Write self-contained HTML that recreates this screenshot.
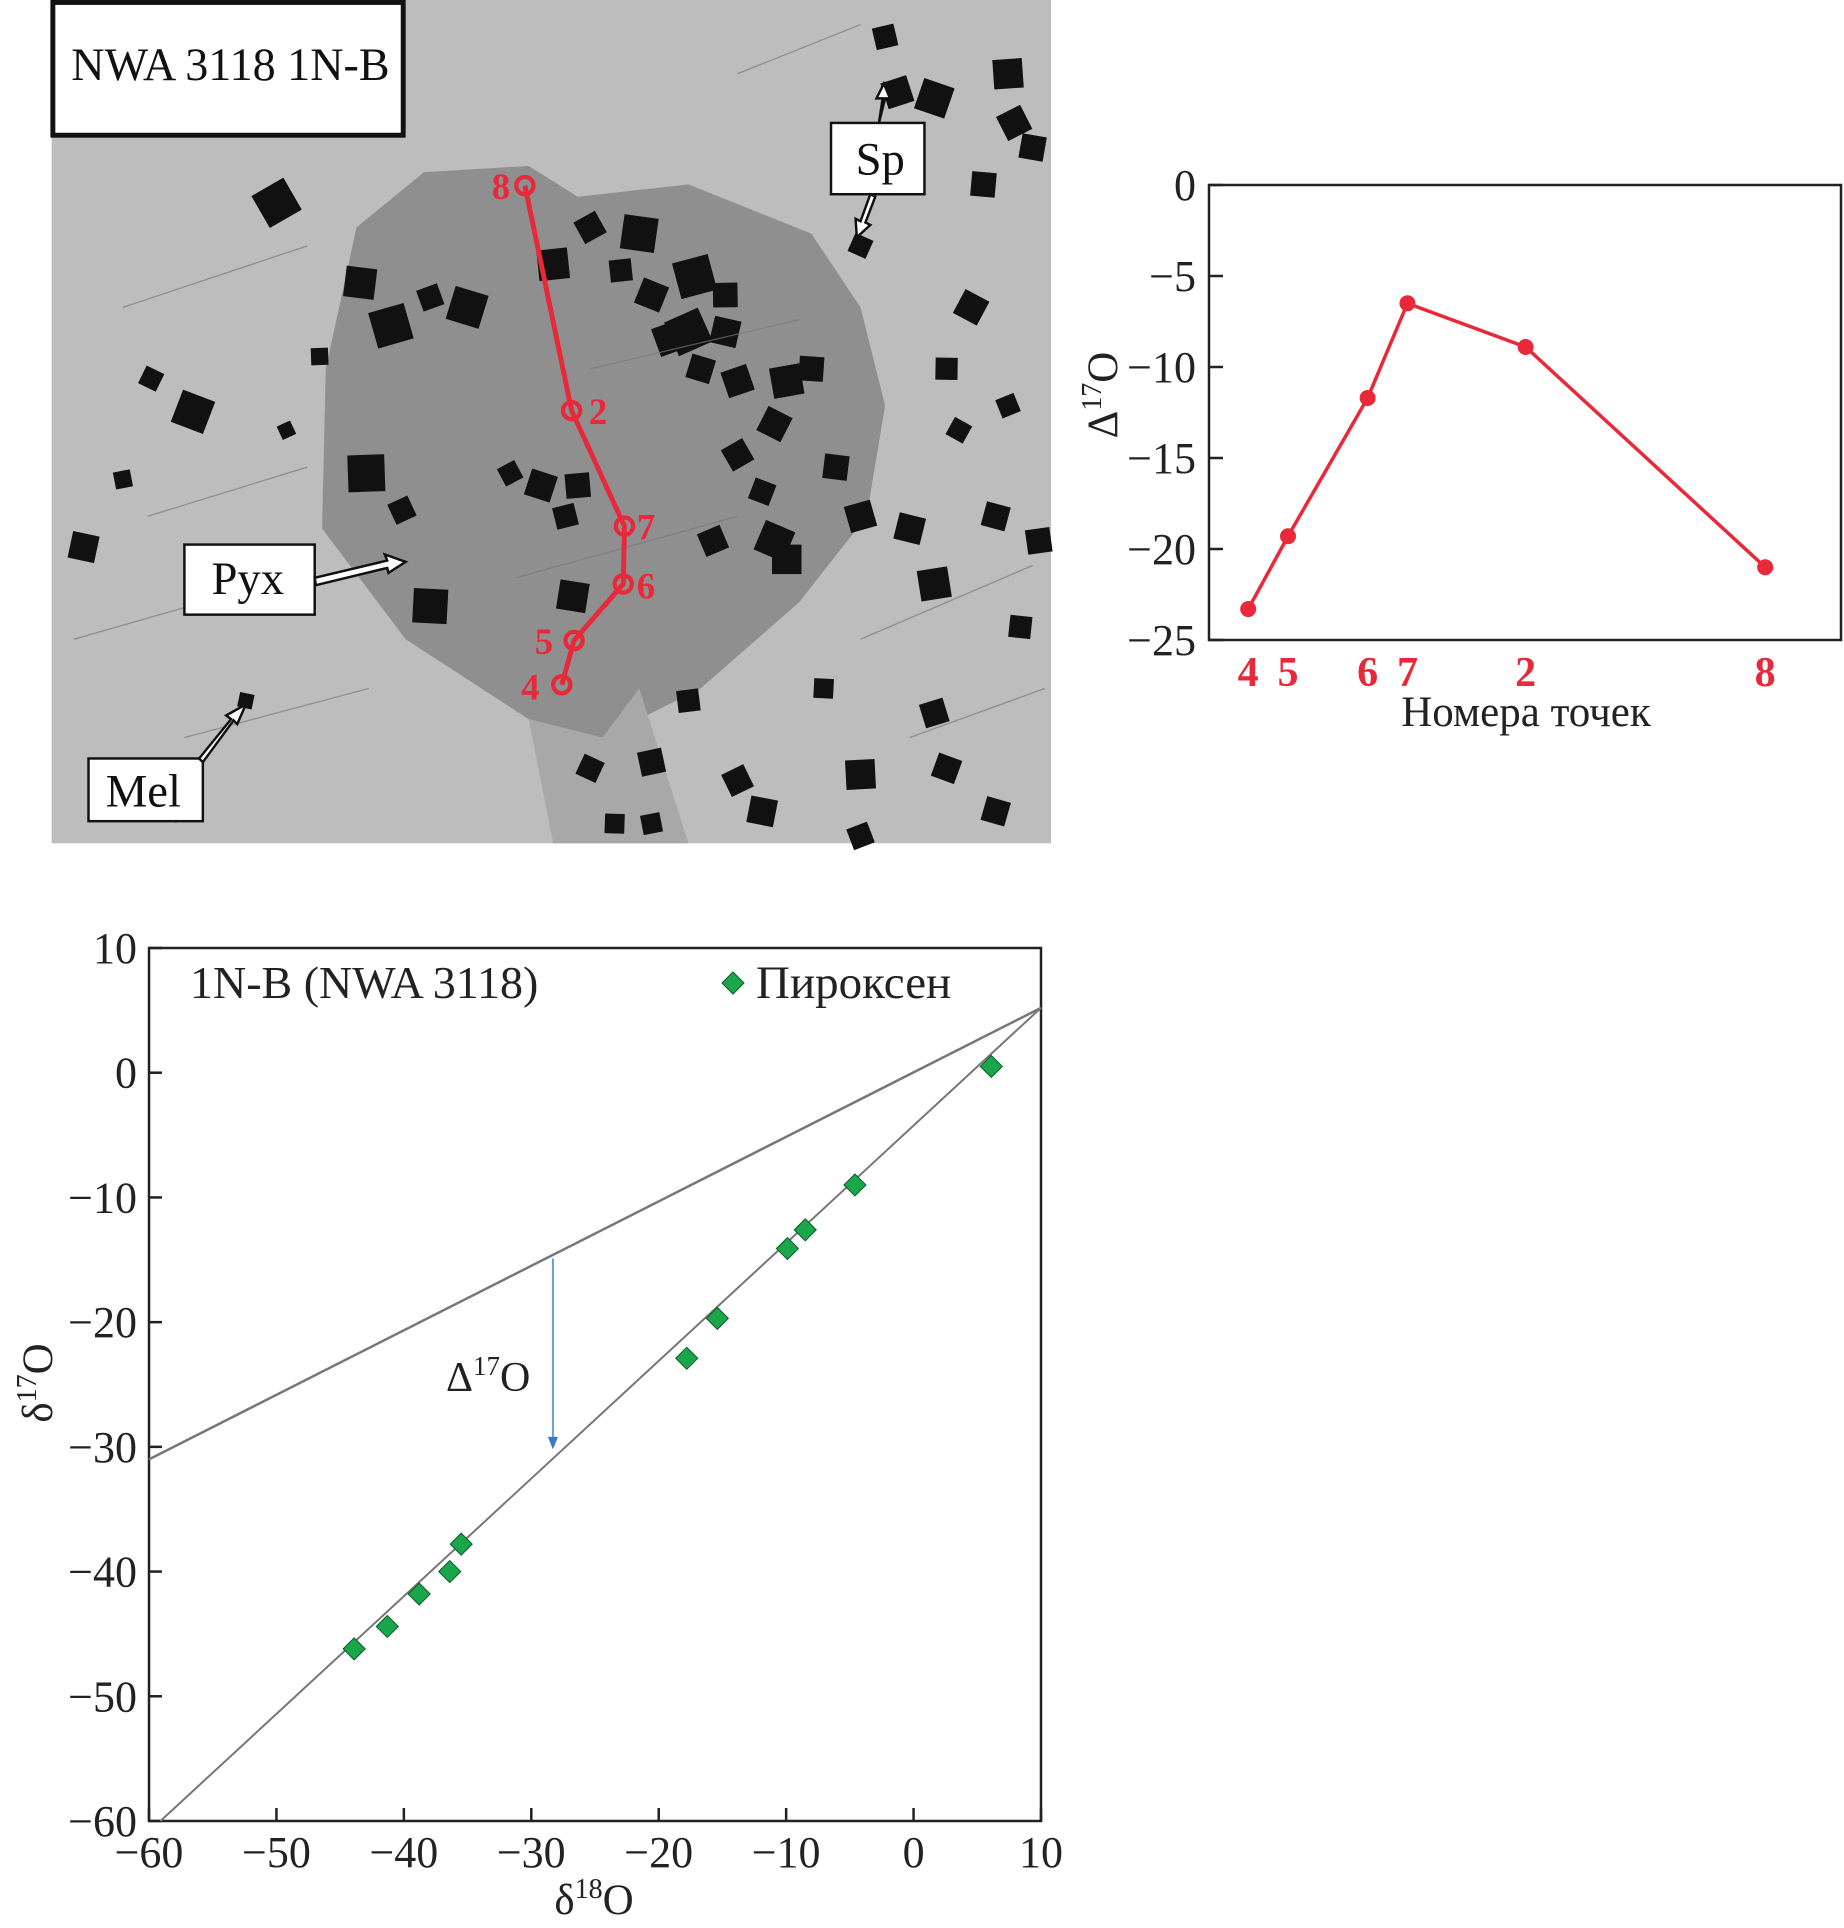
<!DOCTYPE html>
<html><head><meta charset="utf-8"><style>
html,body{margin:0;padding:0;background:#fff;}
svg{display:block;}
text{font-family:"Liberation Serif",serif;}
</style></head><body>
<svg id="root" width="1844" height="1928" viewBox="0 0 1844 1928" xmlns="http://www.w3.org/2000/svg">
<g id="photo" transform="scale(1.2293)">
  <rect x="42" y="0" width="813" height="686" fill="#bdbdbd"/>
  <polygon points="290,185 345,140 430,135 470,160 560,150 660,190 700,250 720,330 705,420 650,490 570,560 490,600 430,585 330,520 262,430 265,300" fill="#8f8f8f"/>
  <polygon points="430,585 490,600 520,560 560,686 450,686" fill="#a8a8a8"/>
  <g id="grains" fill="#111"></g>
  <g stroke="#777" stroke-width="1" fill="none" opacity="0.7">
    <path d="M60 100 L200 60 M100 250 L250 200 M60 520 L200 480 M150 600 L300 560 M600 60 L700 20 M700 520 L840 460 M740 600 L850 560 M120 420 L250 380 M480 300 L650 260 M420 470 L600 420"/>
  </g>
  <polyline id="profile" fill="none" stroke="#e8293a" stroke-width="4" points="427,151 465,334 508,428 507,475 467,521 457,557"/>
  <g fill="none" stroke="#e8293a" stroke-width="3.5">
    <circle cx="427" cy="151" r="7"/>
    <circle cx="465" cy="334" r="7"/>
    <circle cx="508" cy="428" r="7"/>
    <circle cx="507" cy="475" r="7"/>
    <circle cx="467" cy="521" r="7"/>
    <circle cx="457" cy="557" r="7"/>
  </g>
  <g fill="#e8293a" font-weight="bold" font-size="30" style="font-family:'Liberation Serif',serif">
    <text x="400" y="162">8</text><text x="479" y="345">2</text><text x="518" y="439">7</text>
    <text x="518" y="487">6</text><text x="435" y="532">5</text><text x="424" y="569">4</text>
  </g>
  <rect x="43" y="2" width="285" height="108" fill="#fff" stroke="#111" stroke-width="4"/>
  <text x="58" y="65" font-size="37.5" fill="#111">NWA 3118 1N-B</text>
  <g stroke="#111" stroke-width="2" fill="#fff">
    <rect x="676" y="100" width="76" height="58"/>
    <rect x="150" y="443" width="106" height="57"/>
    <rect x="72" y="617" width="93" height="51"/>
    <path d="M715 100 L718 80 L713 80 L719 68 L724 80 L720 80 Z" />
    <path d="M708 158 L700 180 L696 178 L697 193 L708 183 L704 181 L712 160 Z"/>
    <path d="M256 470 L315 456 L313 451 L330 457 L316 466 L315 462 L257 476 Z"/>
    <path d="M162 617 L188 585 L184 582 L200 573 L193 589 L190 586 L165 620 Z"/>
  </g>
  <text x="696" y="142" font-size="38" fill="#111">Sp</text>
  <text x="172" y="483" font-size="38" fill="#111">Pyx</text>
  <text x="86" y="656" font-size="38" fill="#111">Mel</text>
</g>

<g id="chart1"></g>
<g id="chart2"></g>
</svg>
<script>
const NS='http://www.w3.org/2000/svg';
function mk(tag,attrs,parent,txt){const e=document.createElementNS(NS,tag);for(const k in attrs)e.setAttribute(k,attrs[k]);if(txt!==undefined)e.textContent=txt;parent.appendChild(e);return e;}

// photo grains (decorative)
const grainData=[[225,165,30],[293,230,25],[318,265,30],[157,335,28],[298,385,30],[327,415,18],[68,445,22],[100,390,14],[123,308,16],[350,493,28],[350,242,18],[380,250,28],[450,215,25],[480,185,20],[520,190,28],[565,225,30],[530,240,22],[590,240,20],[560,270,30],[590,270,22],[640,310,25],[630,345,22],[660,300,20],[600,310,22],[440,395,22],[470,395,20],[415,385,16],[466,485,24],[460,420,18],[630,440,26],[640,455,24],[580,440,20],[740,430,22],[760,475,25],[790,250,22],[800,150,20],[730,75,22],[760,80,26],[820,60,24],[825,100,22],[840,120,20],[720,30,18],[700,200,16],[770,300,18],[820,330,16],[810,420,20],[845,440,20],[780,350,16],[830,510,18],[760,580,20],[770,625,20],[700,630,24],[600,635,20],[620,660,22],[530,620,20],[480,625,18],[500,670,16],[700,680,18],[810,660,20],[560,570,18],[600,370,20],[680,380,20],[700,420,22],[620,400,18],[260,290,14],[233,350,12],[200,570,12],[530,670,16],[140,660,14],[670,560,16],[545,275,24],[570,300,20],[505,220,18]];
const gg=document.getElementById('grains');
grainData.forEach((g,i)=>{const s=g[2];const r=mk('rect',{x:g[0]-s/2,y:g[1]-s/2,width:s,height:s,transform:`rotate(${(i*37)%60-30} ${g[0]} ${g[1]})`},gg);

});

// ===== Chart 1: Δ17O along profile =====
const c1Labels=['4','5','6','7','2','8'];
const c1Pos=[6.2,12.5,25.1,31.4,50.1,88.0];
const c1Values=[-23.3,-19.3,-11.7,-6.5,-8.9,-21.0];
const c1Ticks=[0,-5,-10,-15,-20,-25];
const c1=document.getElementById('chart1');
const p1={l:1209,r:1841,t:185,b:640};
const x1=v=>p1.l+(v/100)*(p1.r-p1.l);
const y1=v=>p1.t+(0-v)/25*(p1.b-p1.t);
const f1=mk('rect',{x:p1.l,y:p1.t,width:p1.r-p1.l,height:p1.b-p1.t,fill:'none',stroke:'#222','stroke-width':2.5},c1);


c1Ticks.forEach(t=>{const y=y1(t);
 mk('line',{x1:p1.l,x2:p1.l+14,y1:y,y2:y,stroke:'#222','stroke-width':2.5},c1);
 const tx=mk('text',{x:1196,y:y+15,'text-anchor':'end','font-size':44,fill:'#222'},c1,t===0?'0':'\u2212'+Math.abs(t));
 
 });
const line1=mk('polyline',{points:c1Pos.map((p,i)=>x1(p)+','+y1(c1Values[i])).join(' '),fill:'none',stroke:'#e8293a','stroke-width':3.5},c1);


c1Pos.forEach((p,i)=>{const c=mk('circle',{cx:x1(p),cy:y1(c1Values[i]),r:8,fill:'#e8293a'},c1);
 
 
 const t=mk('text',{x:x1(p),y:686,'text-anchor':'middle','font-size':42,'font-weight':'bold',fill:'#e8293a'},c1,c1Labels[i]);
 
 });
const xt1=mk('text',{x:1526,y:726,'text-anchor':'middle','font-size':43,fill:'#222'},c1,'Номера точек');


const yt1=mk('text',{transform:'translate(1117,395) rotate(-90)','text-anchor':'middle','font-size':43,fill:'#222'},c1);


yt1.innerHTML='Δ<tspan font-size="28" dy="-16">17</tspan><tspan dy="16">O</tspan>';

// ===== Chart 2: δ17O vs δ18O =====
const c2X=[-43.9,-41.3,-38.8,-36.4,-35.5,-17.8,-15.4,-9.9,-8.5,-4.6,6.1];
const c2Y=[-46.2,-44.4,-41.8,-40.0,-37.8,-22.9,-19.7,-14.1,-12.6,-9.0,0.5];
const c2XTicks=[-60,-50,-40,-30,-20,-10,0,10];
const c2YTicks=[10,0,-10,-20,-30,-40,-50,-60];
const tflLine=[[-60,-31.0],[10,5.2]];
const fitLine=[[-59.1,-60],[10,5.2]];
const c2=document.getElementById('chart2');
const p2={l:149,r:1041,t:948,b:1821};
const x2=v=>p2.l+(v+60)/70*(p2.r-p2.l);
const y2=v=>p2.t+(10-v)/70*(p2.b-p2.t);
const f2=mk('rect',{x:p2.l,y:p2.t,width:p2.r-p2.l,height:p2.b-p2.t,fill:'none',stroke:'#222','stroke-width':2.5},c2);


c2XTicks.forEach(t=>{const x=x2(t);
 mk('line',{x1:x,x2:x,y1:p2.b,y2:p2.b-13,stroke:'#222','stroke-width':2.5},c2);
 const tx=mk('text',{x:x,y:1867,'text-anchor':'middle','font-size':44,fill:'#222'},c2,t<0?'\u2212'+Math.abs(t):String(t));
 
 });
c2YTicks.forEach(t=>{const y=y2(t);
 mk('line',{x1:p2.l,x2:p2.l+13,y1:y,y2:y,stroke:'#222','stroke-width':2.5},c2);
 const tx=mk('text',{x:137,y:y+15,'text-anchor':'end','font-size':44,fill:'#222'},c2,t<0?'\u2212'+Math.abs(t):String(t));
 
 });
const tl=mk('line',{x1:x2(tflLine[0][0]),y1:y2(tflLine[0][1]),x2:x2(tflLine[1][0]),y2:y2(tflLine[1][1]),stroke:'#777','stroke-width':2.5},c2);


const fl=mk('line',{x1:x2(fitLine[0][0]),y1:y2(fitLine[0][1]),x2:x2(fitLine[1][0]),y2:y2(fitLine[1][1]),stroke:'#777','stroke-width':2},c2);


const ar=mk('line',{x1:x2(-28.3),y1:y2(-14.9),x2:x2(-28.3),y2:y2(-29.3),stroke:'#6a9fd8','stroke-width':2},c2);


mk('polygon',{points:`${x2(-28.3)-5},${y2(-29.2)} ${x2(-28.3)+5},${y2(-29.2)} ${x2(-28.3)},${y2(-30.2)}`,fill:'#3a78c8'},c2);
const al=mk('text',{x:446,y:1391,'font-size':42,fill:'#222'},c2);


al.innerHTML='Δ<tspan font-size="27" dy="-16">17</tspan><tspan dy="16">O</tspan>';
c2X.forEach((v,i)=>{const cx=x2(v),cy=y2(c2Y[i]),s=11;
 const d=mk('polygon',{points:`${cx},${cy-s} ${cx+s},${cy} ${cx},${cy+s} ${cx-s},${cy}`,fill:'#1aa64a',stroke:'#0d5a27','stroke-width':1},c2);
 
 });
const st=mk('text',{x:190,y:998,'font-size':46,fill:'#222'},c2,'1N-B (NWA 3118)');


const lm=mk('polygon',{points:'733,972 744,983 733,994 722,983',fill:'#1aa64a',stroke:'#0d5a27','stroke-width':1},c2);


const lt=mk('text',{x:756,y:998,'font-size':47,fill:'#222'},c2,'Пироксен');


const xt2=mk('text',{x:594,y:1914,'text-anchor':'middle','font-size':43,fill:'#222'},c2);


xt2.innerHTML='δ<tspan font-size="28" dy="-16">18</tspan><tspan dy="16">O</tspan>';
const yt2=mk('text',{transform:'translate(52,1383) rotate(-90)','text-anchor':'middle','font-size':43,fill:'#222'},c2);


yt2.innerHTML='δ<tspan font-size="28" dy="-16">17</tspan><tspan dy="16">O</tspan>';
</script>
</body></html>
